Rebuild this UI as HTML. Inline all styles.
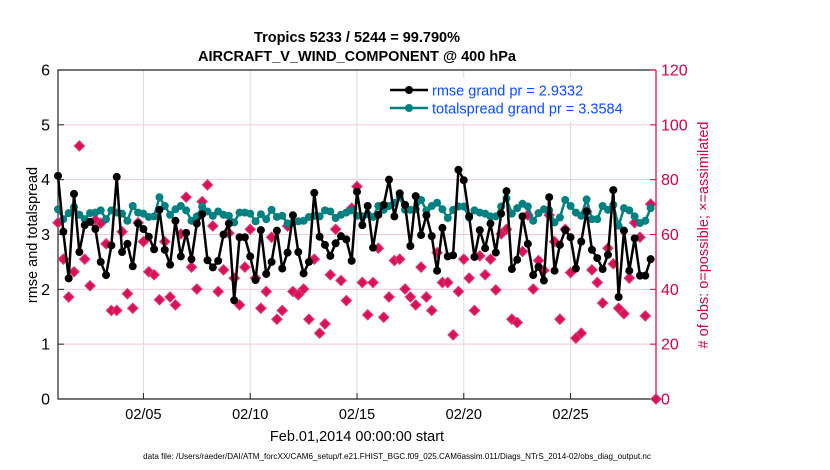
<!DOCTYPE html>
<html><head><meta charset="utf-8">
<style>
body{margin:0;background:#fff;}
svg{display:block;font-family:"Liberation Sans",sans-serif;}
</style></head>
<body>
<svg id="chart" width="830" height="470" viewBox="0 0 830 470">
<rect width="830" height="470" fill="#fff"/>
<g id="grid"></g>
<g id="axes"></g>
<g id="marks"></g>
<text x="357" y="42" text-anchor="middle" font-size="14.5" font-weight="bold">Tropics 5233 / 5244 = 99.790%</text>
<text x="357" y="61" text-anchor="middle" font-size="14.5" font-weight="bold">AIRCRAFT_V_WIND_COMPONENT @ 400 hPa</text>
<text transform="translate(37,235) rotate(-90)" text-anchor="middle" font-size="14.5">rmse and totalspread</text>
<text transform="translate(708,235) rotate(-90)" text-anchor="middle" font-size="14.5" fill="#d5004a"># of obs: o=possible; ×=assimilated</text>
<text x="357" y="441" text-anchor="middle" font-size="14.5">Feb.01,2014 00:00:00 start</text>
<text x="397" y="459" text-anchor="middle" font-size="8.1">data file: /Users/raeder/DAI/ATM_forcXX/CAM6_setup/f.e21.FHIST_BGC.f09_025.CAM6assim.011/Diags_NTrS_2014-02/obs_diag_output.nc</text>
<g>
<rect x="386" y="78" width="262" height="44" fill="#fff"/>
<line x1="390" y1="90" x2="428" y2="90" stroke="#000" stroke-width="2.5"/>
<circle cx="409" cy="90" r="4" fill="#000"/>
<text x="432" y="95.5" font-size="14.5" fill="#0a4dff">rmse grand pr = 2.9332</text>
<line x1="390" y1="108" x2="428" y2="108" stroke="#008080" stroke-width="2.5"/>
<circle cx="409" cy="108" r="4" fill="#008080"/>
<text x="432" y="113.5" font-size="14.5" fill="#0a4dff">totalspread grand pr = 3.3584</text>
</g>
</svg>
<script>
const rmse=[4.07,3.05,2.2,3.74,2.68,3.17,3.23,3.1,2.5,2.26,2.8,4.05,2.68,2.83,2.42,3.2,3.1,2.96,2.73,3.45,2.72,2.45,3.25,2.6,3.03,2.55,3.2,3.37,2.53,2.4,2.52,3.0,3.2,1.8,2.95,2.95,2.6,2.17,3.08,2.28,2.5,3.07,2.38,2.67,3.35,2.68,2.29,2.5,3.76,2.96,2.81,2.61,2.84,2.97,2.91,2.52,3.78,3.17,3.52,2.76,3.36,3.54,4.0,3.33,3.75,3.54,2.79,3.7,2.99,3.35,2.97,2.34,3.12,2.6,2.62,4.18,3.99,3.33,2.59,3.08,2.75,3.2,2.67,3.38,3.79,2.37,2.54,3.33,2.83,2.26,2.41,2.16,3.68,2.34,2.81,3.08,2.95,2.38,2.87,3.42,2.72,2.57,2.37,2.63,3.81,1.86,3.07,2.34,2.93,2.25,2.25,2.55];
const spread=[3.46,3.28,3.39,3.5,3.36,3.28,3.39,3.4,3.44,3.28,3.44,3.4,3.38,3.25,3.52,3.4,3.38,3.32,3.33,3.68,3.52,3.36,3.46,3.52,3.44,3.25,3.33,3.51,3.42,3.34,3.42,3.36,3.34,3.22,3.4,3.4,3.38,3.24,3.37,3.28,3.45,3.32,3.34,3.2,3.22,3.24,3.25,3.32,3.34,3.33,3.44,3.42,3.3,3.36,3.4,3.44,3.34,3.33,3.37,3.32,3.52,3.45,3.52,3.58,3.68,3.45,3.45,3.46,3.63,3.44,3.52,3.58,3.46,3.3,3.45,3.51,3.51,3.31,3.44,3.4,3.38,3.33,3.33,3.51,3.66,3.38,3.48,3.56,3.51,3.25,3.39,3.46,3.44,3.22,3.31,3.63,3.52,3.4,3.34,3.64,3.28,3.28,3.52,3.45,3.54,3.16,3.48,3.44,3.33,3.21,3.25,3.48];
const nobs=[64.3,51,37.2,46.4,92.3,51,41.3,65.3,64.1,56.6,32.3,32.3,61,38.4,33.1,64.3,57.4,46.4,45.3,36.2,57.4,37.2,34.3,60.2,73.6,48.1,40.1,72,78.1,63.1,39.2,47.1,60.5,44.1,34.3,48.1,61.9,44.1,33.1,39.2,59,29.1,32.3,63.1,39.2,38,40.1,29.1,51,24,27.4,45.3,61.9,43.2,35.9,69.6,77.5,42.5,30.7,42.5,55,29.8,37.2,50.5,51,40.1,37.2,34.3,48.1,37.2,32.3,53.4,42.5,42.5,23.4,39.2,51,44.1,32.3,52.2,45.3,51,39.8,60.2,61.9,29.1,27.9,53.8,67.1,40.1,50.5,46.9,67.1,57.4,29.1,61.9,46.1,22.2,24,68.4,47.1,42.5,35,55,49.3,33.1,31.1,44.1,64.3,59,30.3,71.1,0];
const xTickDays=[4,9,14,19,24];
const xTickLabels=["02/05","02/10","02/15","02/20","02/25"];
const yTicks=[0,1,2,3,4,5,6];
const y2Ticks=[0,20,40,60,80,100,120];
const NS='http://www.w3.org/2000/svg';
const L=58,R=656,T=70,B=399,DAYS=28;
const xDay=d=>L+(d/DAYS)*(R-L);
const xIdx=i=>xDay(i*0.25);
const yL=v=>B-(v/6)*(B-T);
const yR=v=>B-(v/120)*(B-T);
function mk(tag,attrs,parent){const e=document.createElementNS(NS,tag);for(const k in attrs)e.setAttribute(k,attrs[k]);parent.appendChild(e);return e;}
const grid=document.getElementById('grid'),axes=document.getElementById('axes'),marks=document.getElementById('marks');
y2Ticks.forEach(t=>{if(t>0&&t<120){const l=mk('line',{x1:L,x2:R,y1:yR(t),y2:yR(t),stroke:'#f2c6d6','stroke-width':1},grid);

}});
xTickDays.forEach((d,k)=>{const l=mk('line',{x1:xDay(d),x2:xDay(d),y1:T,y2:B,stroke:'#dcdcdc','stroke-width':1},grid);


const tk=mk('line',{x1:xDay(d),x2:xDay(d),y1:B,y2:B-6,stroke:'#222'},axes);


const t=mk('text',{x:xDay(d),y:B+20,'text-anchor':'middle','font-size':'14.5'},axes);t.textContent=xTickLabels[k];

});
const fr=mk('path',{d:`M${R},${T} H${L} V${B} H${R}`,fill:'none',stroke:'#222','stroke-width':1.2},axes);


const ra=mk('line',{x1:R,x2:R,y1:T,y2:B,stroke:'#d5004a','stroke-width':1.2},axes);


yTicks.forEach(v=>{const tk=mk('line',{x1:L,x2:L+6,y1:yL(v),y2:yL(v),stroke:'#222'},axes);


const t=mk('text',{x:L-8,y:yL(v)+5.5,'text-anchor':'end','font-size':'16'},axes);t.textContent=v;

});
y2Ticks.forEach(v=>{const tk=mk('line',{x1:R,x2:R-6,y1:yR(v),y2:yR(v),stroke:'#d5004a'},axes);


const t=mk('text',{x:R+5,y:yR(v)+5.5,'font-size':'16',fill:'#d5004a'},axes);t.textContent=v;

});
nobs.forEach((v,i)=>{const x=xIdx(i),y=yR(v),s=5;
const p=mk('path',{d:`M${x},${y-s} L${x+s},${y} L${x},${y+s} L${x-s},${y} Z`,fill:'#d6105a',stroke:'#e0306e','stroke-width':1.2},marks);

});
function series(arr,color,name){
const pts=arr.map((v,i)=>xIdx(i)+','+yL(v)).join(' ');
const pl=mk('polyline',{points:pts,fill:'none',stroke:color,'stroke-width':2.5,'stroke-linejoin':'round'},marks);


arr.forEach((v,i)=>{const c=mk('circle',{cx:xIdx(i),cy:yL(v),r:4,fill:color},marks);

});}
series(spread,'#008080','totalspread');
series(rmse,'#000','rmse');
</script>
</body></html>
